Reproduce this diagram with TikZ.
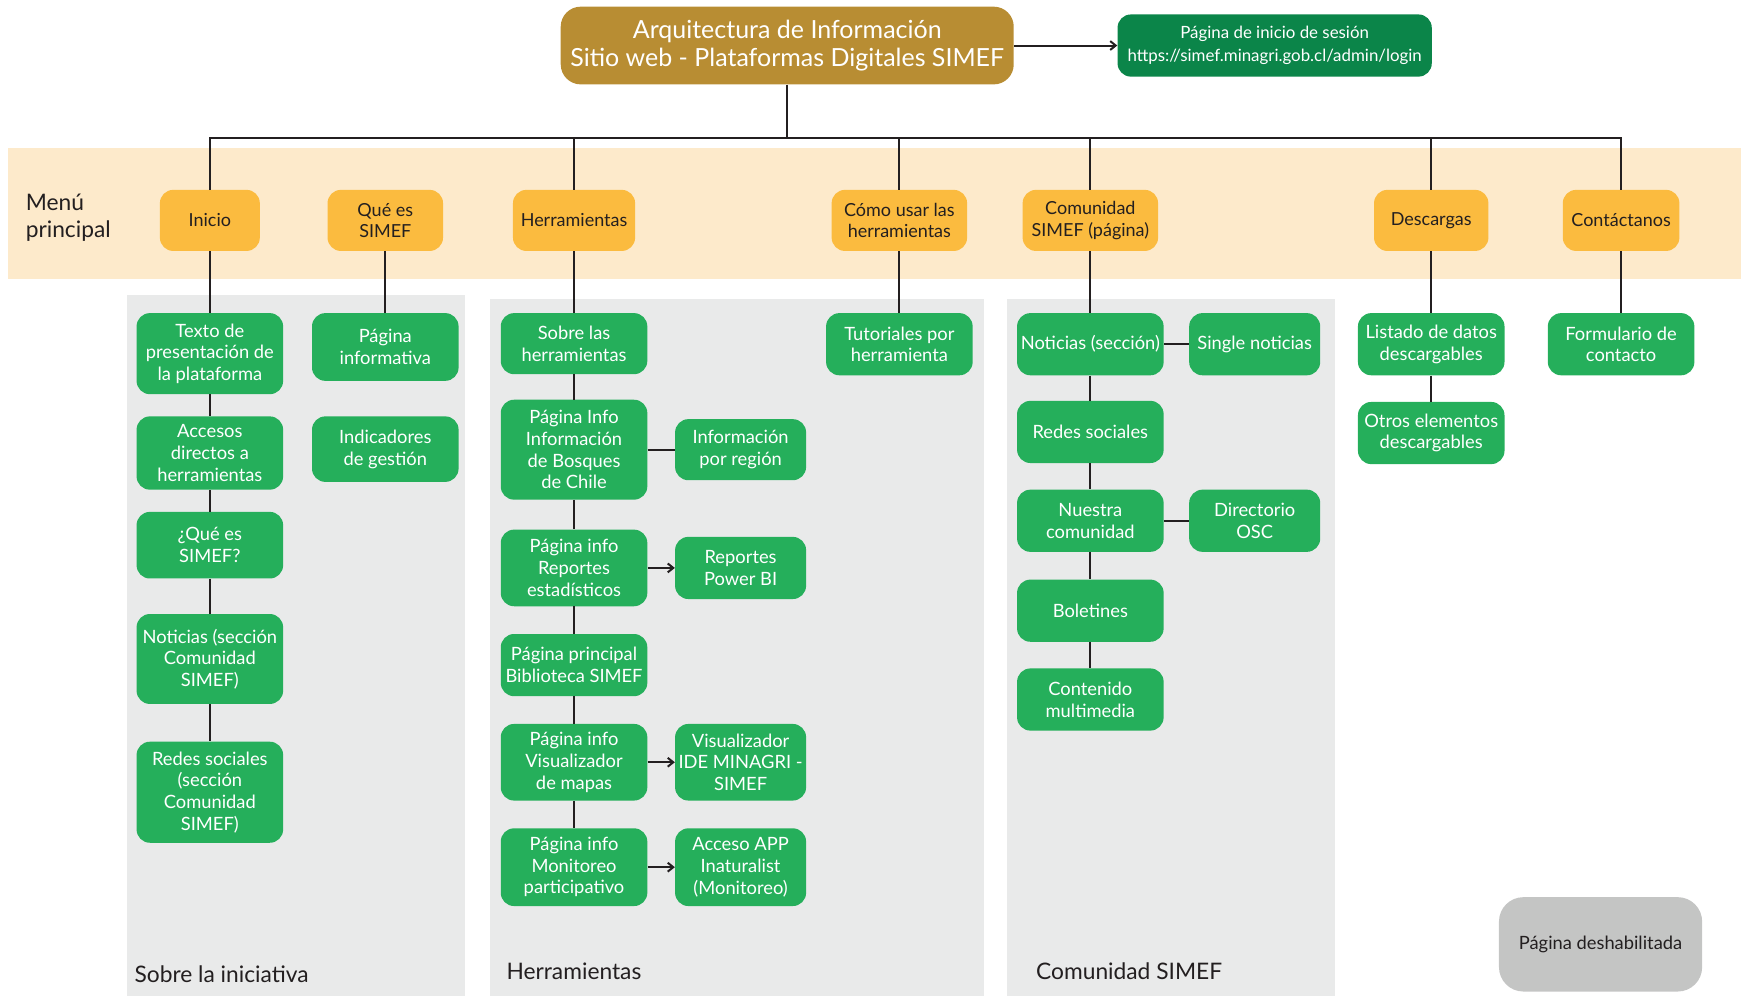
\documentclass[tikz,border=0pt]{standalone}
\usepackage{fontspec}
\setmainfont{Lato}
\usepackage{tikz}
\usetikzlibrary{arrows.meta}
\usepackage{xcolor}
\definecolor{dorado}{RGB}{184,141,51}
\definecolor{verdeosc}{RGB}{11,133,73}
\definecolor{verde}{RGB}{37,175,91}
\definecolor{naranjo}{RGB}{251,187,63}
\definecolor{franja}{RGB}{253,234,203}
\definecolor{panel}{RGB}{233,234,234}
\definecolor{apagado}{RGB}{196,197,196}
\definecolor{tinta}{RGB}{35,31,32}
\newcommand{\cajafont}{\fontsize{16.5pt}{19.5pt}\selectfont}
\newcommand{\menufont}{\fontsize{16.2pt}{19.5pt}\selectfont}
\newcommand{\titulofont}{\fontsize{22.5pt}{26pt}\selectfont}
\newcommand{\rotulofont}{\fontsize{20.5pt}{25pt}\selectfont}

\tikzset{
    menu/.style={fill=naranjo, rounded corners=12pt, align=center, text=tinta,
        font=\menufont, minimum height=55pt, inner sep=2pt},
    hoja/.style={fill=verde, rounded corners=12pt, align=center, text=white,
        font=\cajafont, minimum width=132pt, minimum height=56pt, inner sep=1pt},
    anexo/.style={hoja, minimum width=118pt},
    linea/.style={draw=tinta, line width=1.8pt},
    flecha/.style={linea, -{Straight Barb[length=5pt,width=8pt]}},
    rotulo/.style={anchor=west, text=tinta, font=\rotulofont, align=left, inner sep=0pt},
}

\begin{document}
\begin{tikzpicture}[x=1pt,y=-1pt]
    \useasboundingbox (0,0) rectangle (1568,897);

    % fondos
    \fill[franja] (7,133) rectangle (1568,251);
    \fill[panel] (114,266) rectangle (419,897);
    \fill[panel] (441,269) rectangle (886,897);
    \fill[panel] (907,269) rectangle (1202,897);

    \node[rotulo] (menuppal) at (23,196) {Menú\\principal};
    \node[rotulo] (secinic) at (121,877) {Sobre la iniciativa};
    \node[rotulo] (secherr) at (456,875) {Herramientas};
    \node[rotulo] (seccom) at (933,875) {Comunidad SIMEF};

    % cabecera
    \node[fill=dorado, rounded corners=18pt, text=white, align=center, font=\titulofont,
        minimum width=408pt, minimum height=70pt, inner sep=2pt] (titulo) at (709,41)
        {Arquitectura de Información\\Sitio web - Plataformas Digitales SIMEF};
    \node[fill=verdeosc, rounded corners=12pt, text=white, align=center,
        font=\fontsize{15.2pt}{21pt}\selectfont, minimum width=283pt, minimum height=56pt,
        inner sep=2pt] (login) at (1148,41)
        {Página de inicio de sesión\\https://simef.minagri.gob.cl/admin/login};
    \draw[flecha] (titulo.east) -- (login.west);

    % menu principal
    \node[menu, minimum width=90pt] (inicio) at (189,198.5) {Inicio};
    \node[menu, minimum width=104pt] (quees) at (347,198.5) {Qué es\\SIMEF};
    \node[menu, minimum width=110pt] (herr) at (517,198.5) {Herramientas};
    \node[menu, minimum width=122pt] (como) at (810,198.5) {Cómo usar las\\herramientas};
    \node[menu, minimum width=122pt] (comu) at (982,198.5) {Comunidad\\SIMEF (página)};
    \node[menu, minimum width=103pt] (desc) at (1289,198.5) {Descargas};
    \node[menu, minimum width=105pt] (contacto) at (1460,198.5) {Contáctanos};

    \coordinate (bus) at (709,124);
    \draw[linea] (titulo.south) -- (bus);
    \foreach \m in {inicio,herr,como,comu,desc,contacto}
        \draw[linea] (\m.north) |- (bus);

    % Inicio
    \node[hoja, minimum height=73pt] (texto) at (189,318.5) {Texto de\\presentación de\\la plataforma};
    \node[hoja, minimum height=66pt] (accesos) at (189,408) {Accesos\\directos a\\herramientas};
    \node[hoja, minimum height=60pt] (queesb) at (189,491) {¿Qué es\\SIMEF?};
    \node[hoja, minimum height=81pt] (noticiasa) at (189,593.5) {Noticias (sección\\Comunidad\\SIMEF)};
    \node[hoja, minimum height=91pt] (redesa) at (189,713.5) {Redes sociales\\(sección\\Comunidad\\SIMEF)};
    \draw[linea] (inicio.south) -- (texto.north);
    \draw[linea] (texto.south) -- (accesos.north);
    \draw[linea] (accesos.south) -- (queesb.north);
    \draw[linea] (queesb.south) -- (noticiasa.north);
    \draw[linea] (noticiasa.south) -- (redesa.north);

    % Qué es SIMEF
    \node[hoja, minimum height=61pt] (informativa) at (347,312.5) {Página\\informativa};
    \node[hoja, minimum height=59pt] (indicadores) at (347,404.5) {Indicadores\\de gestión};
    \draw[linea] (quees.south) -- (informativa.north);

    % Herramientas
    \node[hoja, minimum height=55pt] (sobre) at (517,309.5) {Sobre las\\herramientas};
    \node[hoja, minimum height=90pt] (bosques) at (517,405) {Página Info\\Información\\de Bosques\\de Chile};
    \node[anexo, minimum height=55pt] (region) at (667,405) {Información\\por región};
    \node[hoja, minimum height=69pt] (reportes) at (517,511.5) {Página info\\Reportes\\estadísticos};
    \node[anexo] (powerbi) at (667,511.5) {Reportes\\Power BI};
    \node[hoja] (biblioteca) at (517,599) {Página principal\\Biblioteca SIMEF};
    \node[hoja, minimum height=69pt] (visor) at (517,686.5) {Página info\\Visualizador\\de mapas};
    \node[anexo, minimum height=69pt] (ide) at (667,686.5) {Visualizador\\IDE MINAGRI -\\SIMEF};
    \node[hoja, minimum height=70pt] (monitoreo) at (517,781) {Página info\\Monitoreo\\participativo};
    \node[anexo, minimum height=70pt] (inaturalist) at (667,781) {Acceso APP\\Inaturalist\\(Monitoreo)};
    \draw[linea] (herr.south) -- (sobre.north);
    \draw[linea] (sobre.south) -- (bosques.north);
    \draw[linea] (bosques.south) -- (reportes.north);
    \draw[linea] (reportes.south) -- (biblioteca.north);
    \draw[linea] (biblioteca.south) -- (visor.north);
    \draw[linea] (visor.south) -- (monitoreo.north);
    \draw[linea] (bosques.east) -- (region.west);
    \draw[flecha] (reportes.east) -- (powerbi.west);
    \draw[flecha] (visor.east) -- (ide.west);
    \draw[flecha] (monitoreo.east) -- (inaturalist.west);

    % Cómo usar
    \node[hoja] (tutoriales) at (810,310) {Tutoriales por\\herramienta};
    \draw[linea] (como.south) -- (tutoriales.north);

    % Comunidad SIMEF
    \node[hoja] (noticiasb) at (982,310) {Noticias (sección)};
    \node[anexo] (single) at (1130,310) {Single noticias};
    \node[hoja] (redesb) at (982,389) {Redes sociales};
    \node[hoja] (nuestra) at (982,469) {Nuestra\\comunidad};
    \node[anexo] (directorio) at (1130,469) {Directorio\\OSC};
    \node[hoja] (boletines) at (982,550) {Boletines};
    \node[hoja] (multimedia) at (982,630) {Contenido\\multimedia};
    \draw[linea] (comu.south) -- (noticiasb.north);
    \draw[linea] (noticiasb.east) -- (single.west);
    \draw[linea] (noticiasb.south) -- (redesb.north);
    \draw[linea] (redesb.south) -- (nuestra.north);
    \draw[linea] (nuestra.east) -- (directorio.west);
    \draw[linea] (nuestra.south) -- (boletines.north);
    \draw[linea] (boletines.south) -- (multimedia.north);

    % Descargas y contacto
    \node[hoja] (listado) at (1289,310) {Listado de datos\\descargables};
    \node[hoja] (otros) at (1289,390) {Otros elementos\\descargables};
    \node[hoja] (formulario) at (1460,310) {Formulario de\\contacto};
    \draw[linea] (desc.south) -- (listado.north);
    \draw[linea] (listado.south) -- (otros.north);
    \draw[linea] (contacto.south) -- (formulario.north);

    \node[fill=apagado, rounded corners=22pt, text=tinta, font=\cajafont,
        minimum width=183pt, minimum height=85pt] (deshab) at (1441.5,850.5) {Página deshabilitada};
\end{tikzpicture}
\end{document}
